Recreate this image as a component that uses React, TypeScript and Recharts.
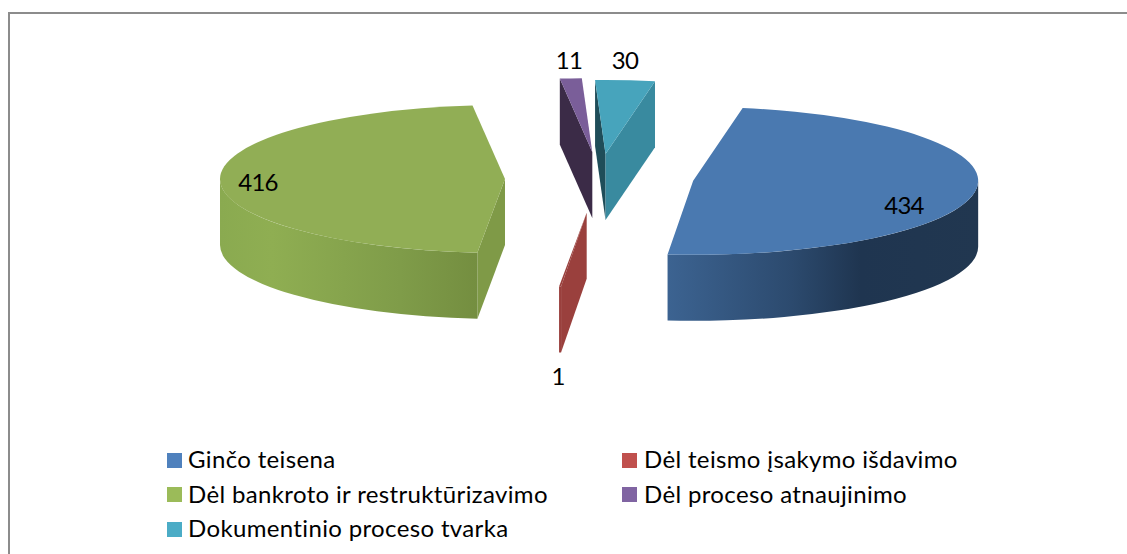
import React from "react";
import { PieChart, Pie, Cell, Legend } from "recharts";

const categories = [
  "Ginčo teisena",
  "Dėl teismo įsakymo išdavimo",
  "Dėl bankroto ir restruktūrizavimo",
  "Dėl proceso atnaujinimo",
  "Dokumentinio proceso tvarka",
];
const values = [434, 1, 416, 11, 30];

// Styling of each slice
const legendColors = ["#4f81bd", "#c0504d", "#9bbb59", "#8064a2", "#4bacc6"];
const topColors = ["#4a79b0", "#9a403d", "#91ae55", "#7a5e99", "#47a4bc"];
const startFaceColors = ["#3c6391", "#9a403d", "#7f9a47", "#3b2b47", "#1f4d59"];
const endFaceColors = ["#3c6391", "#9a403d", "#7f9a47", "#3b2b47", "#398a9f"];
const wallStops: [number, string][][] = [
  [[0, "#3c6391"], [0.4, "#2c4a6e"], [0.62, "#1f3550"], [1, "#213750"]],
  [[0, "#9a403d"], [1, "#9a403d"]],
  [[0, "#8aaa50"], [0.2, "#8fae52"], [0.7, "#7f9c49"], [1, "#748e40"]],
  [[0, "#3b2b47"], [1, "#3b2b47"]],
  [[0, "#398a9f"], [1, "#398a9f"]],
];
// Exploded-pie displacement of each slice, along its mid angle
const explodeX = [95, 132, 94, 89, 95];
const explodeY = [14, 34, 8, 27, 25];
// Data label placement relative to pie centre
const labelDx = [305, -41, -341, -30, 26];
const labelDy = [25, 196, 2, -120, -120];

const CX = 599;
const CY = 179;
const RX = 285;
const RY = 74;
const DEPTH = 66;
const FONT = "Lato, 'Open Sans', sans-serif";

const rad = (d: number) => (d * Math.PI) / 180;

function Slice3D(props: any) {
  const i = categories.indexOf(props.payload?.name ?? props.name);
  const ts = 90 - props.startAngle;
  const te = 90 - props.endAngle;
  const mid = (ts + te) / 2;
  const ax = props.cx + explodeX[i] * Math.sin(rad(mid));
  const ay = props.cy - explodeY[i] * Math.cos(rad(mid));
  const ry = (props.outerRadius * RY) / RX;
  const pt = (t: number, dz = 0) => [
    ax + props.outerRadius * Math.sin(rad(t)),
    ay - ry * Math.cos(rad(t)) + dz,
  ];
  const arc = (a: number, b: number, dz: number, sweep = 1) => {
    const [x, y] = pt(b, dz);
    return `A${props.outerRadius} ${ry} 0 ${Math.abs(b - a) > 180 ? 1 : 0} ${sweep} ${x} ${y}`;
  };
  const [sx, sy] = pt(ts);
  const [ex, ey] = pt(te);
  const top = `M${ax} ${ay}L${sx} ${sy}${arc(ts, te, 0)}Z`;
  const face = (x: number, y: number) =>
    `M${ax} ${ay}L${x} ${y}L${x} ${y + DEPTH}L${ax} ${ay + DEPTH}Z`;
  const wa = Math.max(ts, 90);
  const wb = Math.min(te, 270);
  let wall = "";
  if (wb > wa) {
    const [x1, y1] = pt(wa);
    const [x2, y2] = pt(wb, DEPTH);
    wall = `M${x1} ${y1}${arc(wa, wb, 0)}L${x2} ${y2}${arc(wb, wa, DEPTH, 0)}Z`;
  }
  const gid = `wall-${i}`;
  return (
    <g>
      <linearGradient id={gid} x1="0" x2="1" y1="0" y2="0">
        {wallStops[i].map(([o, c]) => (
          <stop key={o} offset={o} stopColor={c} />
        ))}
      </linearGradient>
      {Math.sin(rad(ts)) < 0 ? <path d={face(sx, sy)} fill={startFaceColors[i]} /> : null}
      {Math.sin(rad(te)) > 0 ? <path d={face(ex, ey)} fill={endFaceColors[i]} /> : null}
      {wall ? <path d={wall} fill={`url(#${gid})`} /> : null}
      <path d={top} fill={topColors[i]} />
    </g>
  );
}

function DataLabel(props: any) {
  const i = categories.indexOf(props.payload?.name ?? props.name);
  return (
    <text
      x={CX + labelDx[i]}
      y={CY + labelDy[i]}
      textAnchor="middle"
      dominantBaseline="central"
      fontFamily={FONT}
      fontSize={24}
      letterSpacing={-0.7}
      fill="#000"
    >
      {values[i]}
    </text>
  );
}

function LegendBox() {
  return (
    <div
      style={{
        display: "grid",
        gridTemplateColumns: "455px 400px",
        gridAutoRows: "34.5px",
        marginLeft: 167,
        fontFamily: FONT,
        fontSize: 24,
        letterSpacing: 0.35,
        color: "#000",
      }}
    >
      {categories.map((name, i) => (
        <div key={name} style={{ display: "flex", alignItems: "center", whiteSpace: "nowrap" }}>
          <span
            style={{
              width: 15,
              height: 15,
              background: legendColors[i],
              marginRight: i % 2 ? 7 : 6,
              flex: "none",
            }}
          />
          <span style={{ position: "relative", top: -1.5 }}>{name}</span>
        </div>
      ))}
    </div>
  );
}

const table = categories.map((name, i) => ({ name, value: values[i] }));

export default function App() {
  return (
    <div style={{ position: "absolute", left: 0, top: 0, width: 1127, height: 554, background: "#fff" }}>
      <div
        style={{
          position: "absolute",
          left: 8,
          top: 12,
          width: 1119,
          height: 542,
          borderLeft: "2px solid #8c8c8c",
          borderTop: "2px solid #8c8c8c",
          boxSizing: "border-box",
        }}
      />
      <div style={{ position: "absolute", left: 0, top: 0 }}>
        <PieChart width={1127} height={554} margin={{ top: 0, right: 0, bottom: 0, left: 0 }}>
          <Pie
            data={table}
            dataKey="value"
            nameKey="name"
            cx={CX}
            cy={CY}
            innerRadius={0}
            outerRadius={RX}
            startAngle={80}
            endAngle={-280}
            paddingAngle={0}
            stroke="none"
            isAnimationActive={false}
            shape={Slice3D}
            labelLine={false}
            label={DataLabel}
          >
            {categories.map((name, i) => (
              <Cell key={name} fill={legendColors[i]} />
            ))}
          </Pie>
          <Legend
            content={<LegendBox />}
            layout="vertical"
            wrapperStyle={{ position: "absolute", left: 0, top: 443, width: 1127, height: 110 }}
          />
        </PieChart>
      </div>
    </div>
  );
}
